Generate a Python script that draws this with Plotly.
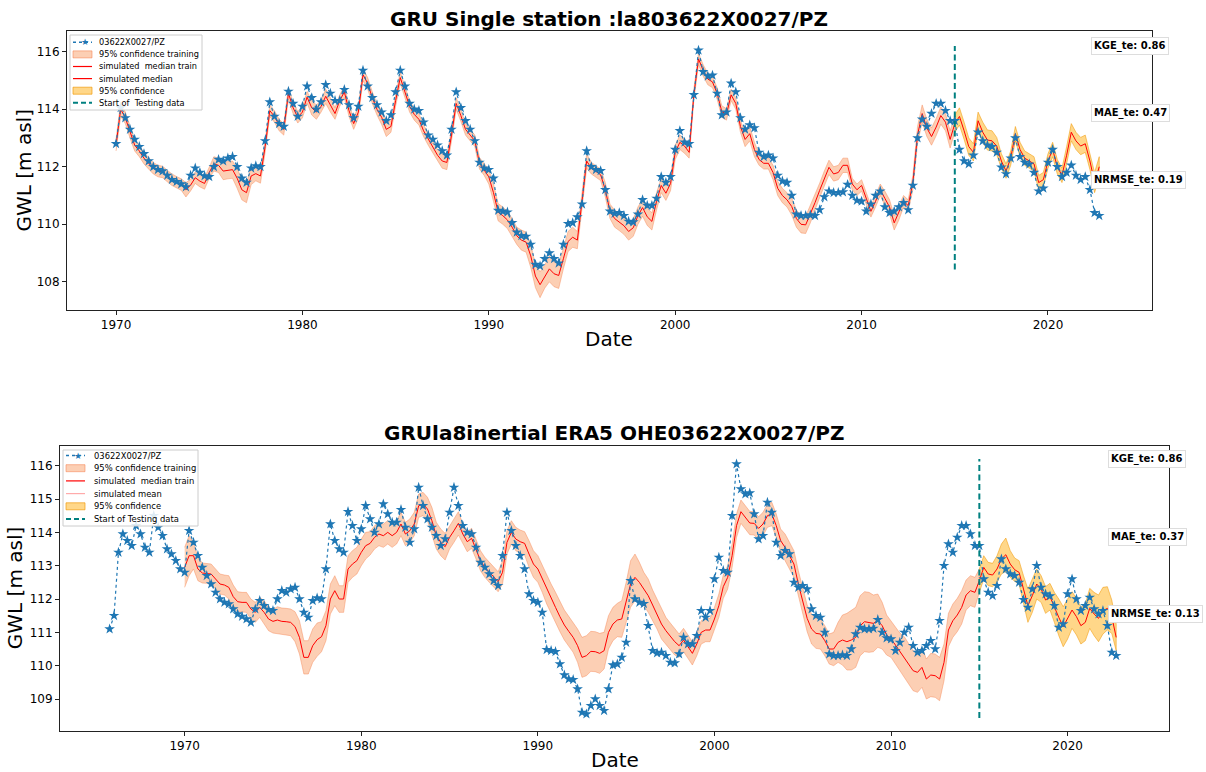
import numpy as np
import plotly.graph_objects as go

W, H = 1206, 772
FONT = "DejaVu Sans"

# ---------------------------------------------------------------- data
station = "03622X0027/PZ"
title_single = "GRU Single station :la803622X0027/PZ"
title_inertial = "GRUla8inertial ERA5 OHE03622X0027/PZ"

first_year = 1970.0          # first quarterly sample of the main record
early_first_year = 1965.75   # first sample of the extended record
step = 0.25                  # quarterly sampling (years)
test_start = 2015.0
test_line_low, test_line_high = 108.43, 116.2

# observed groundwater level before 1970 (m asl)
obs_early = [111.1, 111.5, 113.4, 113.95, 113.75, 113.6, 114.2, 113.95, 113.55,
             113.4, 114.5, 114.15, 113.9, 113.5, 113.35, 113.15, 112.9]

# observed groundwater level 1970-2022, quarterly (m asl)
obs_gwl = [
    112.8, 114.05, 113.7, 113.3,    112.95, 112.7, 112.45, 112.2,
    112.0, 111.9, 111.85, 111.7,    111.55, 111.48, 111.4, 111.3,
    111.7, 111.95, 111.8, 111.68,   111.65, 112.0, 112.25, 112.2,
    112.3, 112.35, 112.0, 111.6,    111.45, 111.95, 112.03, 112.0,
    112.9, 114.25, 113.75, 113.5,   113.4, 114.62, 114.2, 113.75,
    114.1, 114.8, 114.4, 114.0,     114.25, 114.85, 114.55, 114.3,
    114.3, 114.68, 114.15, 113.7,   114.1, 115.35, 114.8, 114.4,
    114.15, 113.9, 113.6, 113.8,    114.6, 115.35, 114.8, 114.2,
    114.0, 113.95, 113.55, 113.1,   112.95, 112.75, 112.55, 112.4,
    113.3, 114.6, 114.05, 113.6,    113.3, 112.9, 112.15, 111.95,
    111.9, 111.6, 110.48, 110.45,   110.42, 110.05, 109.72, 109.6,
    109.58, 109.3, 108.6, 108.55,   108.8, 109.0, 108.8, 108.65,
    109.3, 110.02, 110.05, 110.25,  110.7, 112.55, 112.0, 111.9,
    111.86, 111.2, 110.45, 110.38,  110.4, 110.3, 110.1, 110.08,
    110.35, 110.85, 110.65, 110.65, 110.9, 111.65, 111.45, 111.65,
    112.6, 113.25, 112.85, 112.8,   114.5, 116.05, 115.3, 115.15,
    115.18, 114.55, 113.8, 113.9,   114.9, 114.6, 113.7, 113.3,
    113.45, 113.35, 112.5, 112.35,  112.4, 112.3, 111.7, 111.5,
    111.45, 111.0, 110.35, 110.3,   110.3, 110.32, 110.3, 110.5,
    110.95, 111.15, 111.1, 111.1,   111.12, 111.38, 111.0, 110.83,
    110.8, 110.45, 110.7, 111.0,    111.15, 110.6, 110.4, 110.45,
    110.6, 110.75, 110.5, 111.35,   113.0, 113.65, 113.4, 113.85,
    114.2, 114.2, 113.95, 113.6,    113.6, 112.6, 112.2, 112.1,
    112.4, 113.2, 112.9, 112.75,    112.7, 112.5, 111.98, 111.75,
    112.3, 113.0, 112.35, 112.15,   112.09, 111.8, 111.15, 111.25,
    112.15, 112.6, 112.0, 111.65,   111.8, 112.05, 111.7, 111.55,
    111.65, 111.2, 110.4, 110.3,
]

# GRU single-station model: simulated median and half width of the 95% band
single_median = [
    112.75, 114.0, 113.7, 113.2,    112.75, 112.55, 112.3, 112.12,
    111.95, 111.85, 111.82, 111.68, 111.55, 111.46, 111.38, 111.2,
    111.36, 111.62, 111.5, 111.42,  111.8, 112.1, 112.05, 111.85,
    111.88, 111.9, 111.6, 111.2,    111.1, 111.68, 111.76, 111.68,
    112.7, 113.95, 113.75, 113.45,  113.3, 114.55, 114.05, 113.72,
    113.9, 114.42, 114.05, 113.9,   114.1, 114.45, 114.15, 113.85,
    114.3, 114.6, 113.95, 113.5,    113.9, 115.2, 114.9, 114.4,
    114.0, 113.72, 113.3, 113.4,    114.3, 115.1, 114.6, 114.1,
    113.82, 113.65, 113.25, 112.95, 112.68, 112.4, 112.2, 112.15,
    113.1, 114.2, 113.78, 113.3,    113.1, 112.9, 112.12, 111.9,
    111.65, 111.1, 110.42, 110.3,   110.15, 109.9, 109.6, 109.45,
    109.38, 108.9, 108.2, 107.9,    108.18, 108.45, 108.28, 108.22,
    108.8, 109.4, 109.55, 109.45,   110.8, 112.2, 111.95, 111.82,
    111.72, 111.2, 110.45, 110.2,   110.08, 109.95, 109.75, 109.88,
    110.3, 110.58, 110.26, 110.1,   110.8, 111.35, 111.08, 111.42,
    112.5, 112.85, 112.72, 112.5,   114.5, 115.75, 115.35, 115.05,
    114.95, 114.55, 113.92, 113.82, 114.5, 114.2, 113.4, 112.95,
    113.15, 112.6, 112.25, 112.12,  112.12, 111.8, 111.25, 111.0,
    110.85, 110.62, 110.2, 110.0,   109.98, 110.35, 110.75, 111.18,
    111.6, 111.98, 111.75, 111.8,   112.05, 112.05, 111.4, 111.2,
    111.35, 110.9, 110.45, 110.8,   111.2, 110.9, 110.6, 110.05,
    110.4, 110.8, 110.65, 111.45,   113.1, 113.85, 113.35, 113.05,
    113.38, 113.78, 113.55, 112.95, 113.5, 113.75, 113.25, 112.7,
    112.5, 113.6, 113.2, 112.93,    112.9, 112.72, 112.2, 111.85,
    112.3, 113.15, 112.6, 112.3,    112.2, 112.1, 111.45, 111.55,
    112.2, 112.6, 112.0, 111.7,     112.4, 113.2, 112.9, 112.72,
    112.8, 112.2, 111.45, 112.0,
]
single_spread = [
    .2, .25, .2, .2,   .2, .2, .2, .2,     .2, .2, .2, .2,     .2, .2, .2, .25,
    .2, .2, .2, .2,    .2, .25, .25, .3,   .3, .3, .35, .35,   .35, .3, .25, .25,
    .2, .2, .2, .2,    .2, .2, .2, .2,     .2, .2, .25, .25,   .2, .25, .25, .2,
    .2, .2, .2, .2,    .2, .2, .2, .2,     .2, .25, .25, .2,   .2, .2, .2, .2,
    .2, .2, .2, .2,    .2, .2, .25, .25,   .2, .2, .2, .2,     .2, .2, .2, .2,
    .25, .3, .3, .3,   .3, .3, .3, .35,    .35, .4, .4, .45,   .4, .45, .45, .45,
    .35, .35, .35, .3, .3, .25, .2, .2,    .2, .25, .25, .3,   .3, .3, .3, .3,
    .3, .3, .3, .3,    .3, .25, .25, .25,  .25, .25, .25, .2,  .2, .2, .2, .2,
    .2, .2, .2, .2,    .2, .2, .2, .25,    .25, .25, .2, .2,   .2, .25, .25, .25,
    .25, .3, .3, .3,   .3, .3, .25, .25,   .25, .25, .25, .25, .25, .25, .2, .2,
    .2, .2, .2, .2,    .2, .25, .25, .25,  .25, .2, .2, .25,   .3, .3, .3, .3,
    .3, .3, .3, .3,    .3, .3, .3, .3,     .3, .3, .35, .35,   .35, .3, .25, .25,
    .25, .25, .25, .25, .25, .25, .25, .25, .25, .25, .25, .25, .3, .3, .3, .3,
    .3, .3, .35, .35,
]

# GRU inertial ERA5 OHE model: simulated median and half width of the 95% band
inertial_median = [
    112.95, 113.3, 113.3, 112.9,    112.78, 112.77, 112.75, 112.6,
    112.45, 112.42, 112.35, 112.07, 111.92, 111.9, 111.9, 111.7,
    111.6, 111.75, 111.6, 111.4,    111.33, 111.37, 111.33, 111.32,
    111.3, 111.17, 110.85, 110.25,  110.25, 110.6, 110.78, 110.87,
    111.2, 112.0, 112.25, 112.0,    112.0, 112.9, 113.05, 113.15,
    113.4, 113.6, 113.67, 113.85,   113.95, 113.9, 114.0, 113.9,
    114.0, 114.25, 113.95, 114.05,  114.25, 114.8, 114.85, 114.7,
    114.35, 113.9, 113.7, 113.57,   113.85, 114.05, 114.27, 113.95,
    113.72, 113.82, 113.5, 113.15,  112.95, 112.8, 112.65, 112.52,
    112.8, 113.7, 114.0, 113.8,     113.72, 113.67, 113.35, 113.05,
    112.9, 112.6, 112.3, 112.0,     111.75, 111.47, 111.22, 111.03,
    110.85, 110.6, 110.25, 110.3,   110.43, 110.42, 110.37, 110.45,
    111.0, 111.25, 111.37, 111.4,   111.9, 112.45, 112.65, 112.5,
    112.3, 112.1, 111.82, 111.55,   111.25, 111.05, 110.88, 110.72,
    110.6, 110.77, 110.57, 110.37,  110.65, 111.0, 111.07, 111.07,
    111.4, 111.8, 112.37, 112.65,   113.3, 114.2, 114.62, 114.45,
    114.28, 114.27, 114.12, 114.25, 114.5, 114.55, 114.2, 113.75,
    113.55, 113.3, 113.05, 112.45,  111.95, 111.42, 111.1, 110.97,
    110.95, 110.75, 110.5, 110.5,   110.7, 110.77, 110.72, 110.77,
    110.85, 111.2, 111.32, 111.3,   111.27, 111.35, 111.2, 110.92,
    110.8, 110.62, 110.43, 110.27,  110.05, 109.85, 109.8, 109.95,
    109.6, 109.72, 109.7, 109.6,    110.1, 111.07, 111.35, 111.52,
    111.75, 112.12, 112.25, 112.2,  112.55, 112.95, 112.75, 112.72,
    112.9, 113.2, 113.33, 113.05,   112.88, 112.8, 112.3, 111.8,
    112.1, 112.45, 112.3, 111.97,   112.07, 111.75, 111.45, 111.17,
    111.4, 111.67, 111.47, 111.2,   111.3, 111.72, 111.55, 111.42,
    111.65, 111.72, 111.47, 110.85,
]
inertial_spread = [
    .6, .6, .4, .35,    .3, .3, .3, .3,     .3, .3, .35, .35,   .3, .3, .3, .3,
    .3, .3, .35, .35,   .35, .4, .4, .4,    .4, .45, .5, .5,    .5, .5, .5, .45,
    .45, .45, .45, .4,  .4, .4, .4, .4,     .4, .4, .35, .35,   .35, .35, .35, .35,
    .35, .35, .35, .35, .35, .35, .35, .35, .4, .4, .4, .4,     .35, .35, .35, .3,
    .3, .3, .3, .3,     .3, .3, .3, .3,     .35, .35, .35, .35, .35, .35, .4, .4,
    .4, .4, .45, .45,   .45, .45, .45, .45, .45, .5, .6, .6,    .6, .6, .6, .55,
    .5, .5, .5, .55,    .6, .7, .7, .6,     .5, .5, .45, .45,   .45, .4, .4, .4,
    .35, .35, .35, .35, .35, .35, .35, .35, .35, .35, .35, .35, .35, .35, .35, .35,
    .35, .35, .35, .35, .35, .35, .35, .35, .4, .4, .4, .4,     .4, .4, .45, .45,
    .45, .45, .45, .5,  .6, .75, .85, .9,   .9, .9, .9, .9,     .85, .8, .7, .6,
    .55, .55, .55, .6,  .6, .6, .6, .6,     .6, .65, .65, .65,  .55, .5, .5, .5,
    .5, .45, .45, .45,  .35, .35, .35, .35, .4, .45, .5, .4,    .35, .35, .4, .5,
    .5, .45, .4, .4,    .4, .45, .55, .6,   .6, .55, .55, .55,  .55, .6, .65, .7,
    .7, .65, .5, .4,
]

metric_names = ["KGE_te", "MAE_te", "NRMSE_te"]
single_metrics = [0.86, 0.47, 0.19]
inertial_metrics = [0.86, 0.37, 0.13]
metric_levels = [116.2, 113.87, 111.55]
metric_year = 2022.3

# ---------------------------------------------------------------- series
series = [obs_gwl, single_median, single_spread, inertial_median, inertial_spread]
assert len({len(s) for s in series}) == 1, [len(s) for s in series]

years = first_year + step * np.arange(len(obs_gwl))
early_years = early_first_year + step * np.arange(len(obs_early))
n_train = int(round((test_start - first_year) / step))

BLUE = "#1f77b4"
RED = "#ff0000"
PINK = "#ffaaaa"
TRAIN_FILL = "rgba(250,160,105,0.50)"
TRAIN_EDGE = "rgba(245,130,80,0.55)"
TEST_FILL = "rgba(255,175,20,0.50)"
TEST_EDGE = "rgba(240,150,0,0.65)"
TEAL = "#008080"
TEST_DASH = "6px,3.5px"

fig = go.Figure()


def band(x, lo, hi):
    return np.r_[x, x[::-1]], np.r_[hi, lo[::-1]]


def add_panel(xa, ya, median, spread, obs_x, obs_y):
    med = np.asarray(median, float)
    spr = np.asarray(spread, float)
    lo, hi = med - spr, med + spr
    tr = slice(0, n_train + 1)
    te = slice(n_train, None)
    common = dict(xaxis=xa, yaxis=ya, showlegend=False, hoverinfo="skip")

    bx, by = band(years[tr], lo[tr], hi[tr])
    fig.add_trace(go.Scatter(x=bx, y=by, fill="toself", fillcolor=TRAIN_FILL, mode="lines",
                             line=dict(color=TRAIN_EDGE, width=0.8), **common))
    bx, by = band(years[te], lo[te], hi[te])
    fig.add_trace(go.Scatter(x=bx, y=by, fill="toself", fillcolor=TEST_FILL, mode="lines",
                             line=dict(color=TEST_EDGE, width=0.8), **common))
    fig.add_trace(go.Scatter(x=years[tr], y=med[tr], mode="lines",
                             line=dict(color=RED, width=1), **common))
    fig.add_trace(go.Scatter(x=years[te], y=med[te], mode="lines",
                             line=dict(color=RED, width=1), **common))
    fig.add_trace(go.Scatter(x=obs_x, y=obs_y, mode="lines+markers",
                             line=dict(color=BLUE, width=1.2, dash="dot"),
                             marker=dict(symbol="star", size=8, color=BLUE, line=dict(width=0)),
                             **common))
    fig.add_trace(go.Scatter(x=[test_start, test_start], y=[test_line_low, test_line_high],
                             mode="lines", line=dict(color=TEAL, width=2, dash=TEST_DASH),
                             **common))


add_panel("x", "y", single_median, single_spread, years, obs_gwl)
add_panel("x2", "y2", inertial_median, inertial_spread,
          np.r_[early_years, years], np.r_[obs_early, obs_gwl])

# ---------------------------------------------------------------- layout
# panel boxes in pixels: (left, right, top, bottom)
top_box = (67, 1152, 31, 310)
bot_box = (60, 1169, 445.7, 730.7)


def xdom(b):
    return [b[0] / W, b[1] / W]


def ydom(b):
    return [1 - b[3] / H, 1 - b[2] / H]


axis_style = dict(showline=True, linecolor="#222222", linewidth=1, mirror=True,
                  ticks="outside", ticklen=4, tickwidth=1, tickcolor="#222222",
                  showgrid=False, zeroline=False, automargin=False,
                  tickfont=dict(family=FONT, size=12, color="black"))

fig.update_layout(
    width=W, height=H, margin=dict(l=0, r=0, t=0, b=0),
    paper_bgcolor="white", plot_bgcolor="white", showlegend=False,
    font=dict(family=FONT, color="black"),
    xaxis=dict(domain=xdom(top_box), range=[1967.37, 2025.58], anchor="y",
               tickmode="linear", tick0=1970, dtick=10, **axis_style),
    yaxis=dict(domain=ydom(top_box), range=[107.02, 116.72], anchor="x",
               tickmode="linear", tick0=108, dtick=2, **axis_style),
    xaxis2=dict(domain=xdom(bot_box), range=[1962.94, 2025.74], anchor="y2",
                tickmode="linear", tick0=1970, dtick=10, **axis_style),
    yaxis2=dict(domain=ydom(bot_box), range=[108.05, 116.6], anchor="x2",
                tickmode="linear", tick0=109, dtick=1, **axis_style),
)

annotations = []
shapes = []

for b, title, title_y, date_y, ylab_x in [
    (top_box, title_single, 19, 339, 23),
    (bot_box, title_inertial, 433, 760, 15),
]:
    cx = (b[0] + b[1]) / 2 / W
    annotations.append(dict(text=f"<b>{title}</b>", x=cx, y=1 - title_y / H, xref="paper",
                            yref="paper", showarrow=False, xanchor="center", yanchor="middle",
                            font=dict(family=FONT, size=20, color="black")))
    annotations.append(dict(text="Date", x=cx, y=1 - date_y / H, xref="paper", yref="paper",
                            showarrow=False, xanchor="center", yanchor="middle",
                            font=dict(family=FONT, size=20, color="black")))
    annotations.append(dict(text="GWL [m asl]", x=ylab_x / W, y=1 - (b[2] + b[3]) / 2 / H,
                            xref="paper", yref="paper", showarrow=False, textangle=-90,
                            xanchor="center", yanchor="middle",
                            font=dict(family=FONT, size=20, color="black")))

for xr, yr, values in [("x", "y", single_metrics), ("x2", "y2", inertial_metrics)]:
    for name, val, level in zip(metric_names, values, metric_levels):
        annotations.append(dict(text=f"<b>{name}: {val:.2f}</b>", x=metric_year, y=level,
                                xref=xr, yref=yr, showarrow=False, xanchor="left",
                                yanchor="middle", bgcolor="white", bordercolor="#dddddd",
                                borderwidth=1, borderpad=2,
                                font=dict(family=FONT, size=10, color="black")))


# ---------------------------------------------------------------- legends
def draw_legend(box, first_row, row_h, swatch, text_x, font_size, entries):
    """Legend box in the upper-left corner of a panel (pixel geometry)."""
    px, py = (lambda v: v / W), (lambda v: 1 - v / H)
    shapes.append(dict(type="rect", xref="paper", yref="paper", layer="above",
                       x0=px(box[0]), x1=px(box[2]), y0=py(box[3]), y1=py(box[1]),
                       fillcolor="rgba(255,255,255,0.85)", line=dict(color="#cccccc", width=1)))
    for i, (kind, label, color, edge) in enumerate(entries):
        yc = first_row + i * row_h
        if kind == "band":
            shapes.append(dict(type="rect", xref="paper", yref="paper", layer="above",
                               x0=px(swatch[0]), x1=px(swatch[1]),
                               y0=py(yc + 3.5), y1=py(yc - 3.5),
                               fillcolor=color, line=dict(color=edge, width=1)))
        else:
            dash = {"obs": "dot", "line": "solid", "dash": "5px,3px"}[kind]
            width = {"obs": 1.5, "line": 1.2, "dash": 2}[kind]
            shapes.append(dict(type="line", xref="paper", yref="paper", layer="above",
                               x0=px(swatch[0]), x1=px(swatch[1]), y0=py(yc), y1=py(yc),
                               line=dict(color=color, width=width, dash=dash)))
            if kind == "obs":
                annotations.append(dict(text="★", x=px((swatch[0] + swatch[1]) / 2 + 2),
                                        y=py(yc), xref="paper", yref="paper", showarrow=False,
                                        xanchor="center", yanchor="middle",
                                        font=dict(family=FONT, size=9, color=color)))
        annotations.append(dict(text=label, x=px(text_x), y=py(yc), xref="paper", yref="paper",
                                showarrow=False, xanchor="left", yanchor="middle",
                                font=dict(family=FONT, size=font_size, color="black")))


draw_legend((70, 35, 202, 110), 42.3, 12.1, (73, 92), 97, 8.2, [
    ("obs", station, BLUE, None),
    ("band", "95% confidence training", TRAIN_FILL, TRAIN_EDGE),
    ("line", "simulated  median train", RED, None),
    ("line", "simulated median", RED, None),
    ("band", "95% confidence", TEST_FILL, TEST_EDGE),
    ("dash", "Start of  Testing data", TEAL, None),
])
draw_legend((63, 450, 198, 526), 455.5, 12.7, (66, 85), 91.5, 8.4, [
    ("obs", station, BLUE, None),
    ("band", "95% confidence training", TRAIN_FILL, TRAIN_EDGE),
    ("line", "simulated  median train", RED, None),
    ("line", "simulated mean", PINK, None),
    ("band", "95% confidence", TEST_FILL, TEST_EDGE),
    ("dash", "Start of Testing data", TEAL, None),
])

fig.update_layout(annotations=annotations, shapes=shapes)
fig.write_html("out.html")
